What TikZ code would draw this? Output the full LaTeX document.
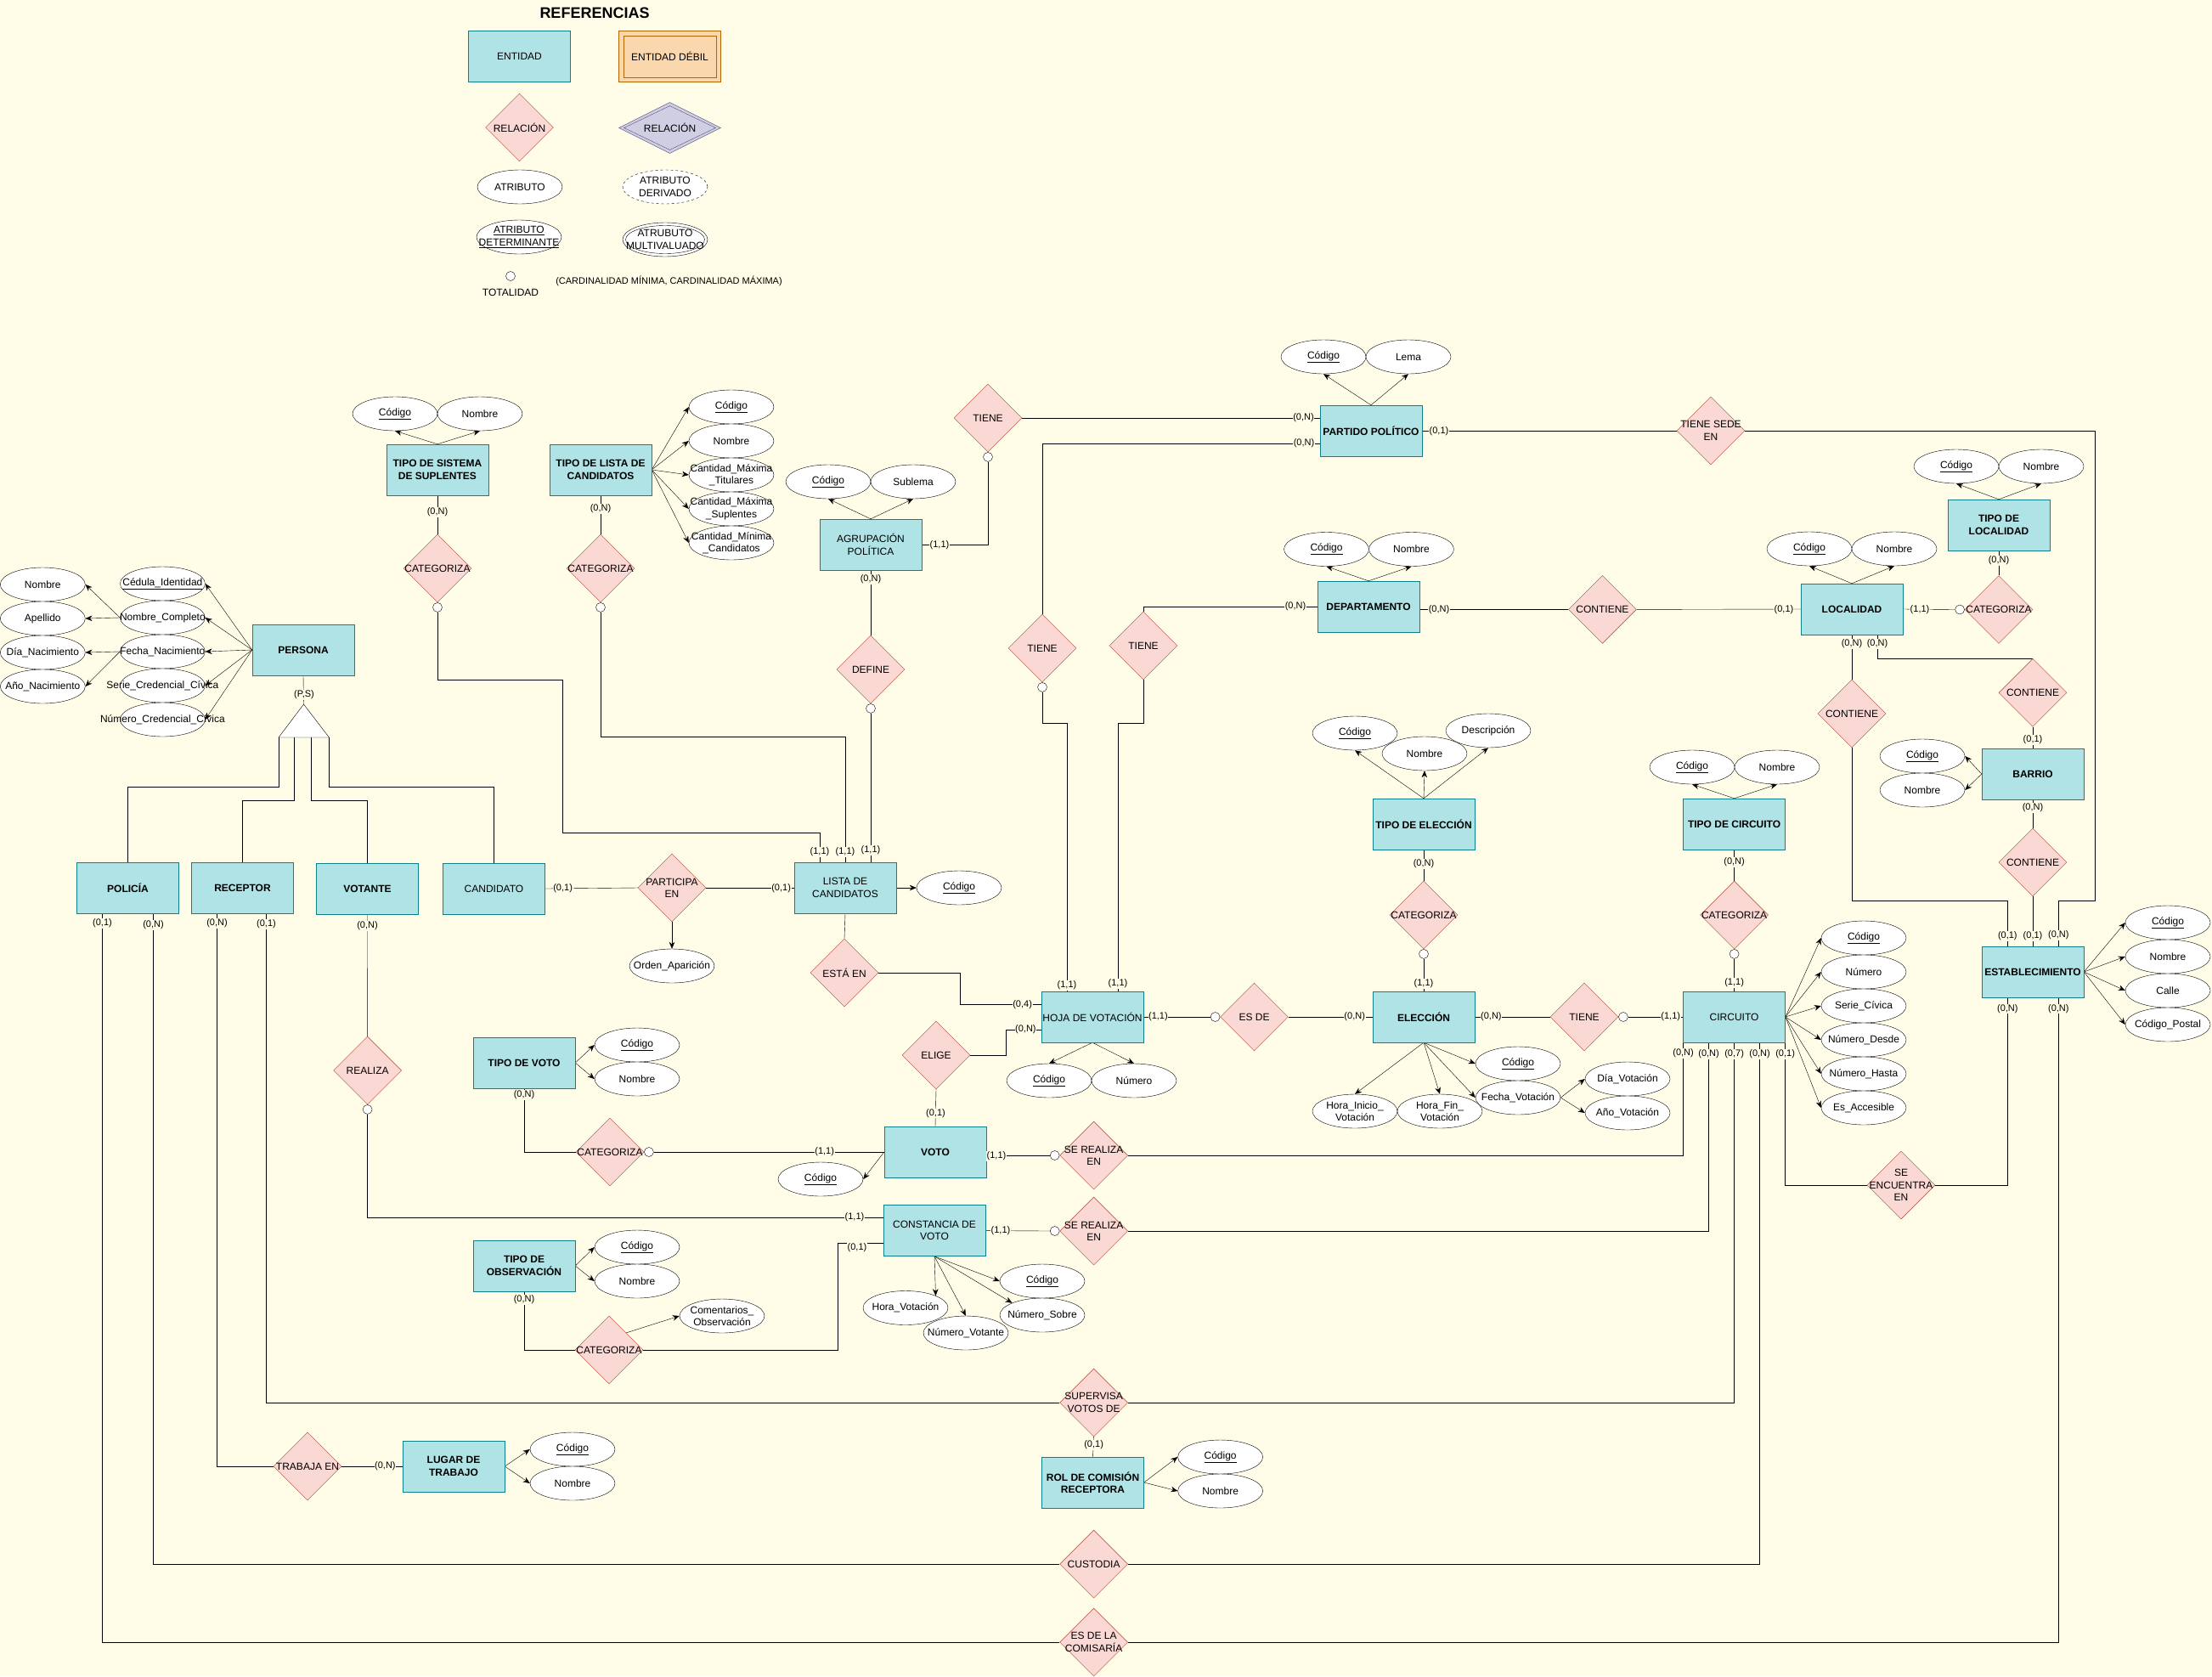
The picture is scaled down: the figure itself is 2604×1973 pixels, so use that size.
\documentclass[tikz,border=0pt]{standalone}
\usepackage{fontspec}
\setmainfont{Liberation Sans}
\usetikzlibrary{shapes.geometric,arrows.meta}
\definecolor{bg}{HTML}{FFFDE7}
\definecolor{entF}{HTML}{B0E3E6}
\definecolor{entB}{HTML}{0E8088}
\definecolor{relF}{HTML}{FAD9D5}
\definecolor{relB}{HTML}{AE4132}
\definecolor{weakF}{HTML}{FAD7AC}
\definecolor{weakB}{HTML}{B46504}
\definecolor{purF}{HTML}{D0CEE2}
\definecolor{purB}{HTML}{56517E}
\newcommand\fA{\fontsize{12}{14.4}\selectfont}
\newcommand\fC{\fontsize{11}{13}\selectfont}
\newcommand\fT{\fontsize{18}{21}\selectfont}
\pgfdeclarelayer{bgl}
\pgfdeclarelayer{edges}
\pgfsetlayers{bgl,edges,main}
\begin{document}
\begin{tikzpicture}[x=1pt,y=-1pt,font=\fA,line width=1pt,
  ent/.style={rectangle,draw=entB,fill=entF,minimum width=120pt,minimum height=60pt,inner sep=0pt,align=center,font=\fA\bfseries},
  entn/.style={ent,font=\fA},
  rel/.style={diamond,draw=relB,fill=relF,minimum width=80pt,minimum height=80pt,inner sep=0pt},
  att/.style={ellipse,draw=black,fill=white,minimum width=100pt,minimum height=40pt,inner sep=0pt},
  tot/.style={circle,draw=black,fill=white,minimum size=11pt,inner sep=0pt},
  card/.style={fill=bg,inner sep=0.6pt,font=\fC},
  arr/.style={-{Stealth[length=8pt,width=6.5pt]}},
  every label/.style={align=center,inner sep=0pt,font=\fA}]
\useasboundingbox (0,0) rectangle (2604,1973);
\begin{pgfonlayer}{bgl}
\fill[bg] (0,0) rectangle (2604,1973);
\end{pgfonlayer}

% ---------------- legend ----------------
\node[font=\fT\bfseries] (lgT) at (700,15) {REFERENCIAS};
\node[entn] (lgE) at (611.5,66.5) {ENTIDAD};
\node[draw=weakB,fill=weakF,minimum width=120pt,minimum height=60pt,inner sep=0pt] (lgW) at (788.5,66.5) {};
\node[draw=weakB,minimum width=109pt,minimum height=49pt,inner sep=0pt] (lgWi) at (lgW) {ENTIDAD DÉBIL};
\node[rel,label=center:RELACIÓN] (lgR) at (611.5,150) {};
\node[diamond,draw=purB,fill=purF,minimum width=120pt,minimum height=60pt,inner sep=0pt] (lgP) at (788.5,150.5) {};
\node[diamond,draw=purB,minimum width=108pt,minimum height=52pt,inner sep=0pt,label=center:RELACIÓN] (lgPi) at (lgP) {};
\node[att,label=center:ATRIBUTO] (lgA) at (612,220) {};
\node[att,dashed,label={center:ATRIBUTO\\DERIVADO}] (lgD) at (783,220) {};
\node[att,label={center:\underline{ATRIBUTO}\\\underline{DETERMINANTE}}] (lgK) at (611,279) {};
\node[att] (lgM) at (783,282) {};
\node[ellipse,draw=black,minimum width=93pt,minimum height=33pt,inner sep=0pt,label={center:ATRUBUTO\\MULTIVALUADO}] (lgMi) at (lgM) {};
\node[tot] (lgC) at (601,325) {};
\node (lgCt) at (601,344) {TOTALIDAD};
\node[font=\fC] (lgCard) at (787.5,331) {(CARDINALIDAD MÍNIMA, CARDINALIDAD MÁXIMA)};

% ---------------- entities ----------------
\node[ent] (sis) at (515,553) {TIPO DE SISTEMA\\DE SUPLENTES};
\node[ent] (tli) at (707,553) {TIPO DE LISTA DE\\CANDIDATOS};
\node[entn] (agr) at (1025,641) {AGRUPACIÓN\\POLÍTICA};
\node[ent] (par) at (1614,507) {PARTIDO POLÍTICO};
\node[ent] (dep) at (1611,714) {DEPARTAMENTO};
\node[ent] (loc) at (2180,717) {LOCALIDAD};
\node[ent] (tloc) at (2353,618) {TIPO DE\\LOCALIDAD};
\node[ent] (bar) at (2393,911) {BARRIO};
\node[ent] (est) at (2393,1144) {ESTABLECIMIENTO};
\node[ent] (per) at (357,765) {PERSONA};
\node[ent] (pol) at (150.5,1045) {POLICÍA};
\node[ent] (rec) at (285.5,1045) {RECEPTOR};
\node[ent] (vot) at (432.5,1046) {VOTANTE};
\node[entn] (can) at (581.5,1046) {CANDIDATO};
\node[entn] (lis) at (995,1045) {LISTA DE\\CANDIDATOS};
\node[entn] (hoj) at (1286,1197) {HOJA DE VOTACIÓN};
\node[ent] (tel) at (1676,970) {TIPO DE ELECCIÓN};
\node[ent] (ele) at (1676,1197) {ELECCIÓN};
\node[ent] (tci) at (2041.6,970) {TIPO DE CIRCUITO};
\node[entn] (cir) at (2041.6,1197) {CIRCUITO};
\node[ent] (tvo) at (617,1251) {TIPO DE VOTO};
\node[ent] (voto) at (1101,1356) {VOTO};
\node[entn] (con) at (1100,1448.6) {CONSTANCIA DE\\VOTO};
\node[ent] (tob) at (617,1490) {TIPO DE\\OBSERVACIÓN};
\node[ent] (lug) at (534,1726) {LUGAR DE\\TRABAJO};
\node[ent] (rol) at (1286.5,1745) {ROL DE COMISIÓN\\RECEPTORA};

% ---------------- relationships ----------------
\node[rel,label=center:CATEGORIZA] (catS) at (515,669) {};
\node[rel,label=center:CATEGORIZA] (catL) at (707,669) {};
\node[rel,label=center:DEFINE] (def) at (1025,788) {};
\node[rel,label=center:TIENE] (tieA) at (1163,492) {};
\node[rel,label=center:TIENE] (tieB) at (1227,763) {};
\node[rel,label=center:TIENE] (tieC) at (1346,760) {};
\node[rel,label={center:TIENE SEDE\\EN}] (sede) at (2014,507) {};
\node[rel,label=center:CONTIENE] (cdl) at (1886.4,717.4) {};
\node[rel,label=center:CATEGORIZA] (catLoc) at (2353,717.5) {};
\node[rel,label=center:CONTIENE] (cle) at (2180,840) {};
\node[rel,label=center:CONTIENE] (clb) at (2393,815.4) {};
\node[rel,label=center:CONTIENE] (cbe) at (2393,1015) {};
\node[rel,label={center:PARTICIPA\\EN}] (pen) at (791,1045) {};
\node[rel,label=center:ESTÁ EN] (esta) at (994,1145) {};
\node[rel,label=center:ELIGE] (eli) at (1102,1242) {};
\node[rel,label=center:ES DE] (esde) at (1476.5,1197) {};
\node[rel,label=center:CATEGORIZA] (catE) at (1676,1077) {};
\node[rel,label=center:TIENE] (tieE) at (1865,1197) {};
\node[rel,label=center:CATEGORIZA] (catC) at (2041.6,1077) {};
\node[rel,label=center:REALIZA] (rea) at (432.6,1260) {};
\node[rel,label=center:CATEGORIZA] (catV) at (718,1356) {};
\node[rel,label=center:CATEGORIZA] (catO) at (717,1589) {};
\node[rel,label={center:SE REALIZA\\EN}] (sre1) at (1287.6,1360) {};
\node[rel,label={center:SE REALIZA\\EN}] (sre2) at (1287.6,1449) {};
\node[rel,label={center:SUPERVISA\\VOTOS DE}] (sup) at (1287.6,1651) {};
\node[rel,label=center:CUSTODIA] (cus) at (1287.6,1841) {};
\node[rel,label={center:ES DE LA\\COMISARÍA}] (com) at (1287.6,1933) {};
\node[rel,label={center:SE\\ENCUENTRA\\EN}] (enc) at (2238,1395) {};
\node[rel,label=center:TRABAJA EN] (tra) at (362,1726) {};

% totality circles
\node[tot,anchor=north] (tS) at (catS.south) {};
\node[tot,anchor=north] (tL) at (catL.south) {};
\node[tot,anchor=north] (tD) at (def.south) {};
\node[tot,anchor=north] (tA) at (tieA.south) {};
\node[tot,anchor=north] (tB) at (tieB.south) {};
\node[tot,anchor=east] (tLoc) at (catLoc.west) {};
\node[tot,anchor=north] (tE) at (catE.south) {};
\node[tot,anchor=north] (tC) at (catC.south) {};
\node[tot,anchor=east] (tES) at (esde.west) {};
\node[tot,anchor=west] (tTE) at (tieE.east) {};
\node[tot,anchor=north] (tR) at (rea.south) {};
\node[tot,anchor=west] (tV) at (catV.east) {};
\node[tot,anchor=east] (tR1) at (sre1.west) {};
\node[tot,anchor=east] (tR2) at (sre2.west) {};

% specialization triangle
\coordinate (triA) at (357.5,829);
\coordinate (triL) at (328,868);
\coordinate (triR) at (387.4,868);
\coordinate (triB1) at (346,868);
\coordinate (triB2) at (366.6,868);
\draw[fill=white] (triA) -- (triL) -- (triR) -- cycle;

% ---------------- attributes ----------------
\node[att,label=center:\underline{Código}] (sisC) at (465,487) {};
\node[att,label=center:Nombre] (sisN) at (565,487) {};
\node[att,label=center:\underline{Código}] (tliC) at (861,479) {};
\node[att,label=center:Nombre] (tliN) at (861,519) {};
\node[att,label={center:Cantidad\_Máxima\\\_Titulares}] (tliT) at (861,559) {};
\node[att,label={center:Cantidad\_Máxima\\\_Suplentes}] (tliS) at (861,599) {};
\node[att,label={center:Cantidad\_Mínima\\\_Candidatos}] (tliM) at (861,639) {};
\node[att,label=center:\underline{Código}] (agrC) at (975,567) {};
\node[att,label=center:Sublema] (agrS) at (1075,567) {};
\node[att,label=center:\underline{Código}] (parC) at (1558,420) {};
\node[att,label=center:Lema] (parL) at (1658,420) {};
\node[att,label=center:\underline{Código}] (depC) at (1561.5,646.5) {};
\node[att,label=center:Nombre] (depN) at (1661.5,646.5) {};
\node[att,label=center:\underline{Código}] (locC) at (2130,646) {};
\node[att,label=center:Nombre] (locN) at (2230,646) {};
\node[att,label=center:\underline{Código}] (tlocC) at (2303,549) {};
\node[att,label=center:Nombre] (tlocN) at (2403,549) {};
\node[att,label=center:\underline{Código}] (barC) at (2263,890) {};
\node[att,label=center:Nombre] (barN) at (2263,930) {};
\node[att,label=center:\underline{Código}] (estC) at (2552,1086) {};
\node[att,label=center:Nombre] (estN) at (2552,1126) {};
\node[att,label=center:Calle] (estCa) at (2552,1166) {};
\node[att,label=center:Código\_Postal] (estP) at (2552,1206) {};
\node[att,label=center:\underline{Cédula\_Identidad}] (perCI) at (191.4,687) {};
\node[att,label=center:Nombre\_Completo] (perNC) at (191.4,727) {};
\node[att,label=center:Fecha\_Nacimiento] (perFN) at (191.4,767) {};
\node[att,label=center:Serie\_Credencial\_Cívica] (perSC) at (191.4,807) {};
\node[att,label=center:Número\_Credencial\_Cívica] (perNCC) at (191.4,847) {};
\node[att,label=center:Nombre] (perN) at (50.3,688) {};
\node[att,label=center:Apellido] (perAp) at (50.3,728) {};
\node[att,label=center:Día\_Nacimiento] (perDN) at (50.3,768) {};
\node[att,label=center:Año\_Nacimiento] (perAN) at (50.3,808) {};
\node[att,label=center:\underline{Código}] (lisC) at (1129,1045) {};
\node[att,label=center:Orden\_Aparición] (penO) at (791,1137) {};
\node[att,label=center:\underline{Código}] (hojC) at (1235,1272) {};
\node[att,label=center:Número] (hojN) at (1335,1272) {};
\node[att,label=center:\underline{Código}] (telC) at (1595,863) {};
\node[att,label=center:Nombre] (telN) at (1677,887) {};
\node[att,label=center:Descripción] (telD) at (1752,860) {};
\node[att,label=center:\underline{Código}] (eleC) at (1787,1252) {};
\node[att,label=center:Fecha\_Votación] (eleF) at (1787,1292) {};
\node[att,label={center:Hora\_Inicio\_\\Votación}] (eleHI) at (1595,1308) {};
\node[att,label={center:Hora\_Fin\_\\Votación}] (eleHF) at (1695,1308) {};
\node[att,label=center:Día\_Votación] (eleD) at (1916,1270) {};
\node[att,label=center:Año\_Votación] (eleA) at (1916,1310) {};
\node[att,label=center:\underline{Código}] (tciC) at (1992,903) {};
\node[att,label=center:Nombre] (tciN) at (2092,903) {};
\node[att,label=center:\underline{Código}] (cirC) at (2194,1104) {};
\node[att,label=center:Número] (cirN) at (2194,1144) {};
\node[att,label=center:Serie\_Cívica] (cirS) at (2194,1184) {};
\node[att,label=center:Número\_Desde] (cirD) at (2194,1224) {};
\node[att,label=center:Número\_Hasta] (cirH) at (2194,1264) {};
\node[att,label=center:Es\_Accesible] (cirA) at (2194,1304) {};
\node[att,label=center:\underline{Código}] (tvoC) at (750,1230) {};
\node[att,label=center:Nombre] (tvoN) at (750,1270) {};
\node[att,label=center:\underline{Código}] (votoC) at (966,1388) {};
\node[att,label=center:Hora\_Votación] (conH) at (1066,1539.5) {};
\node[att,label=center:Número\_Votante] (conNV) at (1137,1569) {};
\node[att,label=center:\underline{Código}] (conC) at (1227,1508) {};
\node[att,label=center:Número\_Sobre] (conNS) at (1227,1548) {};
\node[att,label=center:\underline{Código}] (tobC) at (750,1468) {};
\node[att,label=center:Nombre] (tobN) at (750,1508) {};
\node[att,label={center:Comentarios\_\\Observación}] (catOC) at (850,1549) {};
\node[att,label=center:\underline{Código}] (lugC) at (674,1706) {};
\node[att,label=center:Nombre] (lugN) at (674,1746) {};
\node[att,label=center:\underline{Código}] (rolC) at (1436.6,1715) {};
\node[att,label=center:Nombre] (rolN) at (1436.6,1755) {};

% ---------------- connectors ----------------
\begin{pgfonlayer}{edges}
% attribute arrows
\draw[arr] (sis.north) -- (sisC.south);
\draw[arr] (sis.north) -- (sisN.south);
\foreach \a in {tliC,tliN,tliT,tliS,tliM} \draw[arr] (tli.east) -- (\a.west);
\draw[arr] (agr.north) -- (agrC.south);
\draw[arr] (agr.north) -- (agrS.south);
\draw[arr] (par.north) -- (parC.south);
\draw[arr] (par.north) -- (parL.south);
\draw[arr] (dep.north) -- (depC.south);
\draw[arr] (dep.north) -- (depN.south);
\draw[arr] (loc.north) -- (locC.south);
\draw[arr] (loc.north) -- (locN.south);
\draw[arr] (tloc.north) -- (tlocC.south);
\draw[arr] (tloc.north) -- (tlocN.south);
\draw[arr] (bar.west) -- (barC.east);
\draw[arr] (bar.west) -- (barN.east);
\foreach \a in {estC,estN,estCa,estP} \draw[arr] (est.east) -- (\a.west);
\foreach \a in {perCI,perNC,perFN,perSC,perNCC} \draw[arr] (per.west) -- (\a.east);
\draw[arr] (perNC.west) -- (perN.east);
\draw[arr] (perNC.west) -- (perAp.east);
\draw[arr] (perFN.west) -- (perDN.east);
\draw[arr] (perFN.west) -- (perAN.east);
\draw[arr] (lis.east) -- (lisC.west);
\draw[arr] (pen.south) -- (penO.north);
\draw[arr] (hoj.south) -- (hojC.north);
\draw[arr] (hoj.south) -- (hojN.north);
\draw[arr] (tel.north) -- (telC.south);
\draw[arr] (tel.north) -- (telN.south);
\draw[arr] (tel.north) -- (telD.south);
\draw[arr] (ele.south) -- (eleHI.north);
\draw[arr] (ele.south) -- (eleHF.north);
\draw[arr] (ele.south) -- (eleF.west);
\draw[arr] (ele.south) -- (eleC.west);
\draw[arr] (eleF.east) -- (eleD.west);
\draw[arr] (eleF.east) -- (eleA.west);
\draw[arr] (tci.north) -- (tciC.south);
\draw[arr] (tci.north) -- (tciN.south);
\foreach \a in {cirC,cirN,cirS,cirD,cirH,cirA} \draw[arr] (cir.east) -- (\a.west);
\draw[arr] (tvo.east) -- (tvoC.west);
\draw[arr] (tvo.east) -- (tvoN.west);
\draw[arr] (voto.west) -- (votoC.east);
\draw[arr] (con.south) -- (conH.north east);
\draw[arr] (con.south) -- (conNV.north);
\draw[arr] (con.south) -- (conC.west);
\draw[arr] (con.south) -- (conNS.north west);
\draw[arr] (tob.east) -- (tobC.west);
\draw[arr] (tob.east) -- (tobN.west);
\draw[arr] (catO.north east) -- (catOC.west);
\draw[arr] (lug.east) -- (lugC.west);
\draw[arr] (lug.east) -- (lugN.west);
\draw[arr] (rol.east) -- (rolC.west);
\draw[arr] (rol.east) -- (rolN.west);

% relationship lines
\draw (sis.south) -- (catS.north);
\draw (tS.south) |- (662,800) -- (662,980) -| ([xshift=-30pt]lis.north);
\draw (tli.south) -- (catL.north);
\draw (tL.south) -- (707,867) -| (lis.north);
\draw (agr.south) -- (def.north);
\draw (tD.south) -- ([xshift=30pt]lis.north);
\draw (tieA.east) -- (tieA.east -| par.west);
\draw (tA.south) |- (agr.east);
\draw (tieB.north) |- ([yshift=-15pt]par.west);
\draw (tB.south) |- (1256,851) -- ([xshift=-30pt]hoj.north);
\draw (dep.west) -| (tieC.north);
\draw (tieC.south) |- (1316,851) -- ([xshift=30pt]hoj.north);
\draw (par.east) -- (sede.west);
\draw (sede.east) -- (2466.6,507) -- (2466.6,1060) -| ([xshift=30pt]est.north);
\draw (dep.east |- cdl.west) -- (cdl.west);
\draw (cdl.east) -- (loc.west);
\draw (tloc.south) -- (catLoc.north);
\draw (tLoc.west) -- (loc.east);
\draw (loc.south) -- (cle.north);
\draw (cle.south) -- (2180,1060) -| ([xshift=-30pt]est.north);
\draw ([xshift=30pt]loc.south) |- (clb.north);
\draw (clb.south) -- (bar.north);
\draw (bar.south) -- (cbe.north);
\draw (cbe.south) -- (est.north);
\draw (per.south) -- (triA);
\draw (triL) -- (328,926.5) -| (pol.north);
\draw (triB1) -- (346,942) -| (rec.north);
\draw (triB2) -- (366.6,942) -| (vot.north);
\draw (triR) -- (387.4,926.5) -| (can.north);
\draw (can.east) -- (pen.west);
\draw (pen.east) -- (lis.west);
\draw (lis.south) -- (esta.north);
\draw (esta.east) -| (1130,1182) -- ([yshift=15pt]hoj.west);
\draw ([yshift=-15pt]hoj.west) -- (1184,1212) |- (eli.east);
\draw (eli.south) -- (voto.north);
\draw (hoj.east) -- (tES.west);
\draw (esde.east) -- (ele.west);
\draw (tel.south) -- (catE.north);
\draw (tE.south) -- (ele.north);
\draw (ele.east) -- (tieE.west);
\draw (tTE.east) -- (cir.west);
\draw (tci.south) -- (catC.north);
\draw (tC.south) -- (cir.north);
\draw (vot.south) -- (rea.north);
\draw (tR.south) |- ([yshift=15pt]con.west);
\draw (tvo.south) |- (catV.west);
\draw (tV.east) -- (voto.west);
\draw (voto.east |- sre1.west) -- (tR1.west);
\draw (sre1.east) -| ([xshift=-60pt]cir.south);
\draw (con.east) -- (tR2.west);
\draw (sre2.east) -| ([xshift=-30pt]cir.south);
\draw (tob.south) |- (catO.west);
\draw (catO.east) -| (986.5,1463.6) -- ([yshift=-15pt]con.west);
\draw (sup.west) -| ([xshift=28pt]rec.south);
\draw (sup.east) -| (cir.south);
\draw (sup.south) -- (rol.north);
\draw (cus.west) -| ([xshift=30pt]pol.south);
\draw (cus.east) -| ([xshift=30pt]cir.south);
\draw (com.west) -| ([xshift=-30pt]pol.south);
\draw (com.east) -| ([xshift=30pt]est.south);
\draw (enc.west) -| ([xshift=60pt]cir.south);
\draw (enc.east) -| ([xshift=-30pt]est.south);
\draw (tra.west) -| ([xshift=-30pt]rec.south);
\draw (tra.east) -- (lug.west);
\end{pgfonlayer}

% ---------------- cardinalities ----------------
\node[card] (k1) at (515,603) {(0,N)};
\node[card] (k2) at (965,1003) {(1,1)};
\node[card] (k3) at (707,599) {(0,N)};
\node[card] (k4) at (995,1003) {(1,1)};
\node[card] (k5) at (1025,682) {(0,N)};
\node[card] (k6) at (1025,1001) {(1,1)};
\node[card] (k7) at (1534.5,492) {(0,N)};
\node[card] (k8) at (1106,642) {(1,1)};
\node[card] (k9) at (1535,522) {(0,N)};
\node[card] (k10) at (1256,1160) {(1,1)};
\node[card] (k11) at (1525,714) {(0,N)};
\node[card] (k12) at (1316,1158) {(1,1)};
\node[card] (k13) at (1694,508) {(0,1)};
\node[card] (k14) at (2423.3,1101) {(0,N)};
\node[card] (k15) at (1694,717.4) {(0,N)};
\node[card] (k16) at (2100,717.5) {(0,1)};
\node[card] (k17) at (2353,660) {(0,N)};
\node[card] (k18) at (2260,717.5) {(1,1)};
\node[card] (k19) at (2180,758) {(0,N)};
\node[card] (k20) at (2363.3,1102) {(0,1)};
\node[card] (k21) at (2210,758) {(0,N)};
\node[card] (k22) at (2393,871) {(0,1)};
\node[card] (k23) at (2393,951) {(0,N)};
\node[card] (k24) at (2393,1102) {(0,1)};
\node[card] (k25) at (358,818) {(P,S)};
\node[card] (k26) at (662.6,1046) {(0,1)};
\node[card] (k27) at (919.6,1046) {(0,1)};
\node[card] (k28) at (1203.6,1183) {(0,4)};
\node[card] (k29) at (1207.4,1212) {(0,N)};
\node[card] (k30) at (1101.5,1310.5) {(0,1)};
\node[card] (k31) at (1363.4,1197) {(1,1)};
\node[card] (k32) at (1594.7,1197) {(0,N)};
\node[card] (k33) at (1676,1017) {(0,N)};
\node[card] (k34) at (1676,1158) {(1,1)};
\node[card] (k35) at (1755.4,1197) {(0,N)};
\node[card] (k36) at (1966.7,1197) {(1,1)};
\node[card] (k37) at (2041.6,1015) {(0,N)};
\node[card] (k38) at (2041.6,1157) {(1,1)};
\node[card] (k39) at (432.5,1090) {(0,N)};
\node[card] (k40) at (1006,1433) {(1,1)};
\node[card] (k41) at (617,1289) {(0,N)};
\node[card] (k42) at (970.7,1356) {(1,1)};
\node[card] (k43) at (1173,1361) {(1,1)};
\node[card] (k44) at (1981.6,1240) {(0,N)};
\node[card] (k45) at (1178,1449) {(1,1)};
\node[card] (k46) at (2011.6,1241) {(0,N)};
\node[card] (k47) at (617,1530) {(0,N)};
\node[card] (k48) at (1009,1469) {(0,1)};
\node[card] (k49) at (313.5,1088) {(0,1)};
\node[card] (k50) at (2041.6,1241) {(0,7)};
\node[card] (k51) at (1287.6,1701) {(0,1)};
\node[card] (k52) at (180.5,1089) {(0,N)};
\node[card] (k53) at (2071.6,1241) {(0,N)};
\node[card] (k54) at (120.5,1087) {(0,1)};
\node[card] (k55) at (2423.3,1187.5) {(0,N)};
\node[card] (k56) at (2101.6,1241) {(0,1)};
\node[card] (k57) at (2363.3,1187.5) {(0,N)};
\node[card] (k58) at (255.5,1087) {(0,N)};
\node[card] (k59) at (453.4,1726) {(0,N)};
\end{tikzpicture}
\end{document}
